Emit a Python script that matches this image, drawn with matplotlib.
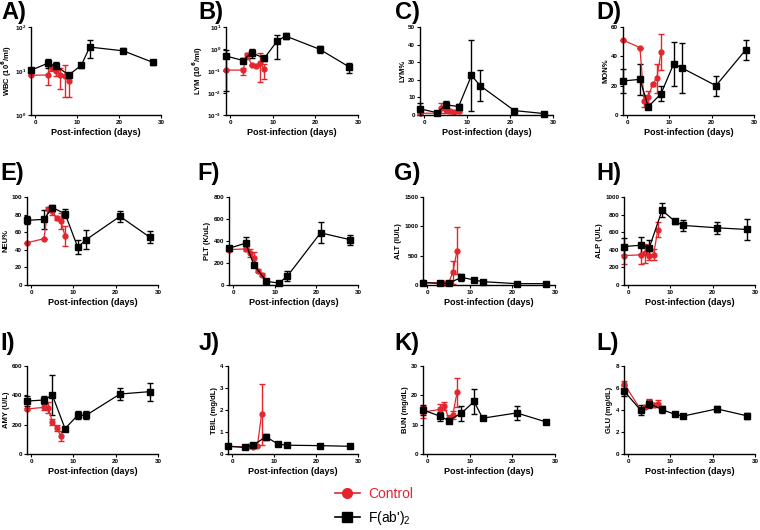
import matplotlib
matplotlib.use("Agg")
import matplotlib.pyplot as plt
from matplotlib.lines import Line2D
import numpy as np

plt.rcParams["font.family"] = ["Liberation Sans", "DejaVu Sans"]
plt.rcParams["font.weight"] = "bold"

RED = "#e3262d"
BLACK = "#000000"

# sampling days
days_fab = [-1, 3, 5, 8, 11, 13, 21, 28]
days_ctrl_cbc = [-1, 3, 4, 5, 6, 7, 8]
days_ctrl_chem = [-1, 3, 4, 5, 6, 7]

# A) WBC (log axis, lower/upper bounds)
wbc_fab = [10.4, 15, 13, 8.1, 13.5, 35, 28.7, 15.8]
wbc_fab_lo = [9.6, 12, 10.5, 7.5, 12, 20, 25, 14]
wbc_fab_hi = [11, 19, 16, 8.8, 15, 50, 33, 18]
wbc_ctrl = [8, 8.1, 12, 10, 8, 7.5, 6]
wbc_ctrl_lo = [8, 4.8, 10, 7.5, 4, 2.6, 2.6]
wbc_ctrl_hi = [8, 12.8, 14, 13, 12, 14, 9]

# B) LYM (log axis)
lym_fab = [0.48, 0.30, 0.68, 0.38, 2.3, 3.9, 0.97, 0.15]
lym_fab_lo = [0.012, 0.225, 0.39, 0.28, 0.34, 2.9, 0.68, 0.08]
lym_fab_hi = [0.87, 0.39, 1.03, 0.48, 4.4, 5.5, 1.37, 0.22]
lym_ctrl = [0.11, 0.11, 0.54, 0.19, 0.17, 0.24, 0.12]
lym_ctrl_lo = [0.11, 0.065, 0.35, 0.19, 0.17, 0.032, 0.043]
lym_ctrl_hi = [0.11, 0.14, 0.65, 0.19, 0.17, 0.68, 0.2]

# C) - L) mean and symmetric error
lymp_fab = [3.5, 1.3, 5.8, 4.8, 22.5, 16.7, 2.5, 0.8]
lymp_fab_err = [3.5, 0.5, 2.2, 1.7, 20.3, 9, 0.5, 0.3]
lymp_ctrl = [1, 1, 4, 2.9, 2, 1.7, 2]
lymp_ctrl_err = [0.5, 0.5, 2.7, 1.5, 1, 0.8, 1]

mon_fab = [23.2, 24.3, 5.7, 14.5, 35, 32, 20, 44.3]
mon_fab_err = [8.3, 10.4, 1.5, 5.2, 15, 17, 6.8, 6.8]
mon_ctrl = [51, 46, 9.5, 12.3, 21, 25, 43]
mon_ctrl_err = [0, 0, 4, 4.3, 1, 10, 12.4]

neu_fab = [73.5, 74.6, 88, 81, 43, 51.5, 78, 54.5]
neu_fab_err = [4.7, 11, 2.7, 5, 7.9, 10.7, 6.5, 6.8]
neu_ctrl = [48, 52.6, 86.7, 84, 76, 72.7, 55.7]
neu_ctrl_err = [0, 0, 2, 4.5, 2, 9, 11.8]

plt_fab = [334, 380, 182, 33, 18, 79, 474, 413]
plt_fab_err = [23, 53, 15, 8, 5, 47, 96, 46]
plt_ctrl = [322, 328, 289, 246, 131, 94, 40]
plt_ctrl_err = [10, 15, 38, 50, 15, 15, 10]

alt_fab = [40, 28, 28, 131, 86, 57, 23, 23]
alt_fab_err = [10, 8, 8, 57, 15, 10, 5, 5]
alt_ctrl = [46, 34, 34, 34, 217, 588]
alt_ctrl_err = [10, 8, 8, 8, 199, 400]

alp_fab = [437, 452, 426, 848, 726, 677, 650, 631]
alp_fab_err = [95, 95, 82, 80, 28, 66, 66, 118]
alp_ctrl = [335, 342, 361, 335, 346, 627]
alp_ctrl_err = [95, 105, 110, 50, 60, 85]

amy_fab = [361, 368, 402, 173, 264, 264, 409, 425]
amy_fab_err = [34, 27, 136, 10, 27, 27, 42, 61]
amy_ctrl = [307, 318, 316, 220, 177, 125]
amy_ctrl_err = [5, 20, 37, 22, 23, 35]

tbil_fab = [0.35, 0.3, 0.4, 0.78, 0.45, 0.4, 0.38, 0.35]
tbil_fab_err = [0.05, 0.05, 0.05, 0.14, 0.03, 0.03, 0.03, 0.03]
tbil_ctrl = [0.35, 0.32, 0.35, 0.33, 0.35, 1.8]
tbil_ctrl_err = [0.03, 0.03, 0.03, 0.03, 0.05, 1.4]

bun_fab = [15, 12.9, 11.4, 13.9, 17.9, 12.2, 14, 10.9]
bun_fab_err = [1.7, 1.5, 1, 2.6, 4.3, 0.6, 2.5, 0.8]
bun_ctrl = [14.3, 15.2, 16.4, 12.3, 13.4, 21]
bun_ctrl_err = [1.9, 1.8, 1.4, 1, 1.4, 5]

glu_fab = [5.73, 3.96, 4.57, 4.05, 3.6, 3.45, 4.1, 3.48]
glu_fab_err = [0.5, 0.45, 0.35, 0.28, 0.08, 0.2, 0.3, 0.27]
glu_ctrl = [6.4, 4.0, 4.3, 4.72, 4.48, 4.57]
glu_ctrl_err = [0.2, 0.1, 0.15, 0.3, 0.15, 0.3]

W, H = 760, 530
fig = plt.figure(figsize=(W / 100, H / 100), dpi=100)


def add_ax(left, top, right, bottom):
    return fig.add_axes([left / W, 1 - bottom / H, (right - left) / W, (bottom - top) / H])


def style(ax, letter, ylabel, lx, ly, labelpad=1.5):
    ax.set_xlim(-1, 30)
    ax.set_xticks([0, 10, 20, 30])
    ax.spines["top"].set_visible(False)
    ax.spines["right"].set_visible(False)
    for s in ("left", "bottom"):
        ax.spines[s].set_linewidth(1.0)
    ax.tick_params(labelsize=4.5, length=2.5, width=0.8, pad=1.0)
    ax.minorticks_off()
    ax.set_xlabel("Post-infection (days)", fontsize=6.5, fontweight="bold", labelpad=2)
    ax.set_ylabel(ylabel, fontsize=5.5, fontweight="bold", labelpad=labelpad)
    fig.text(lx / W, 1 - ly / H, letter, fontsize=17, fontweight="bold", va="top", ha="left")


def series(ax, x, y, yerr, color, marker, ms):
    ax.errorbar(x, y, yerr=yerr, color=color, marker=marker, ms=ms, lw=0.9,
                elinewidth=1.0, capsize=2.5, capthick=1.0, clip_on=False)


def bounds(y, lo, hi):
    y = np.array(y)
    return [y - np.array(lo), np.array(hi) - y]


# panel rows in pixels: top, bottom
rows = [(27, 115), (197, 285), (366, 454)]

# A
ax = add_ax(31, rows[0][0], 161, rows[0][1])
series(ax, days_ctrl_cbc, wbc_ctrl, bounds(wbc_ctrl, wbc_ctrl_lo, wbc_ctrl_hi), RED, "o", 3.5)
series(ax, days_fab, wbc_fab, bounds(wbc_fab, wbc_fab_lo, wbc_fab_hi), BLACK, "s", 4)
ax.set_yscale("log")
ax.set_ylim(1, 100)
ax.set_yticks([1, 10, 100])
style(ax, "A)", "WBC (10$^6$/ml)", 1, 1, labelpad=0.5)

# B
ax = add_ax(226, rows[0][0], 358, rows[0][1])
series(ax, days_ctrl_cbc, lym_ctrl, bounds(lym_ctrl, lym_ctrl_lo, lym_ctrl_hi), RED, "o", 3.5)
series(ax, days_fab, lym_fab, bounds(lym_fab, lym_fab_lo, lym_fab_hi), BLACK, "s", 4)
ax.set_yscale("log")
ax.set_ylim(1e-3, 10)
ax.set_yticks([1e-3, 1e-2, 1e-1, 1, 10])
style(ax, "B)", "LYM (10$^6$/ml)", 198, 1)

panels = [
    ("C)", "LYM%", 420, 553, 0, days_ctrl_cbc, lymp_ctrl, lymp_ctrl_err, lymp_fab, lymp_fab_err, 50, 10, 395),
    ("D)", "MON%", 623, 754, 0, days_ctrl_cbc, mon_ctrl, mon_ctrl_err, mon_fab, mon_fab_err, 60, 20, 596),
    ("E)", "NEU%", 27, 158, 1, days_ctrl_cbc, neu_ctrl, neu_ctrl_err, neu_fab, neu_fab_err, 100, 20, 0),
    ("F)", "PLT (K/uL)", 229, 358, 1, days_ctrl_cbc, plt_ctrl, plt_ctrl_err, plt_fab, plt_fab_err, 800, 200, 197),
    ("G)", "ALT (IU/L)", 423, 555, 1, days_ctrl_chem, alt_ctrl, alt_ctrl_err, alt_fab, alt_fab_err, 1500, 500, 394),
    ("H)", "ALP (U/L)", 624, 755, 1, days_ctrl_chem, alp_ctrl, alp_ctrl_err, alp_fab, alp_fab_err, 1000, 200, 596),
    ("I)", "AMY (U/L)", 27, 158, 2, days_ctrl_chem, amy_ctrl, amy_ctrl_err, amy_fab, amy_fab_err, 600, 200, 0),
    ("J)", "TBIL (mg/dL)", 228, 358, 2, days_ctrl_chem, tbil_ctrl, tbil_ctrl_err, tbil_fab, tbil_fab_err, 4, 1, 199),
    ("K)", "BUN (mg/dL)", 423, 555, 2, days_ctrl_chem, bun_ctrl, bun_ctrl_err, bun_fab, bun_fab_err, 30, 10, 394),
    ("L)", "GLU (mg/dL)", 624, 755, 2, days_ctrl_chem, glu_ctrl, glu_ctrl_err, glu_fab, glu_fab_err, 8, 2, 596),
]

letter_y = {0: 1, 1: 162, 2: 332}

for letter, ylabel, left, right, r, dctrl, yc, ec, yf, ef, ymax, step, lx in panels:
    ax = add_ax(left, rows[r][0], right, rows[r][1])
    series(ax, dctrl, yc, ec, RED, "o", 3.5)
    series(ax, days_fab, yf, ef, BLACK, "s", 4)
    ax.set_ylim(0, ymax)
    ax.set_yticks(np.arange(0, ymax + step / 2, step))
    style(ax, letter, ylabel, lx, letter_y[r])

handles = [
    Line2D([], [], color=RED, marker="o", ms=7, lw=1.2),
    Line2D([], [], color=BLACK, marker="s", ms=7, lw=1.2),
]
fig.legend(handles, ["Control", "F(ab')$\\mathregular{_2}$"], loc="center left",
           bbox_to_anchor=(322 / W, 1 - 507 / H), frameon=False,
           prop={"size": 10, "weight": "normal"}, labelcolor=[RED, BLACK],
           handlelength=1.8, handletextpad=0.6, labelspacing=0.6)

fig.savefig("out.png", dpi=100)
